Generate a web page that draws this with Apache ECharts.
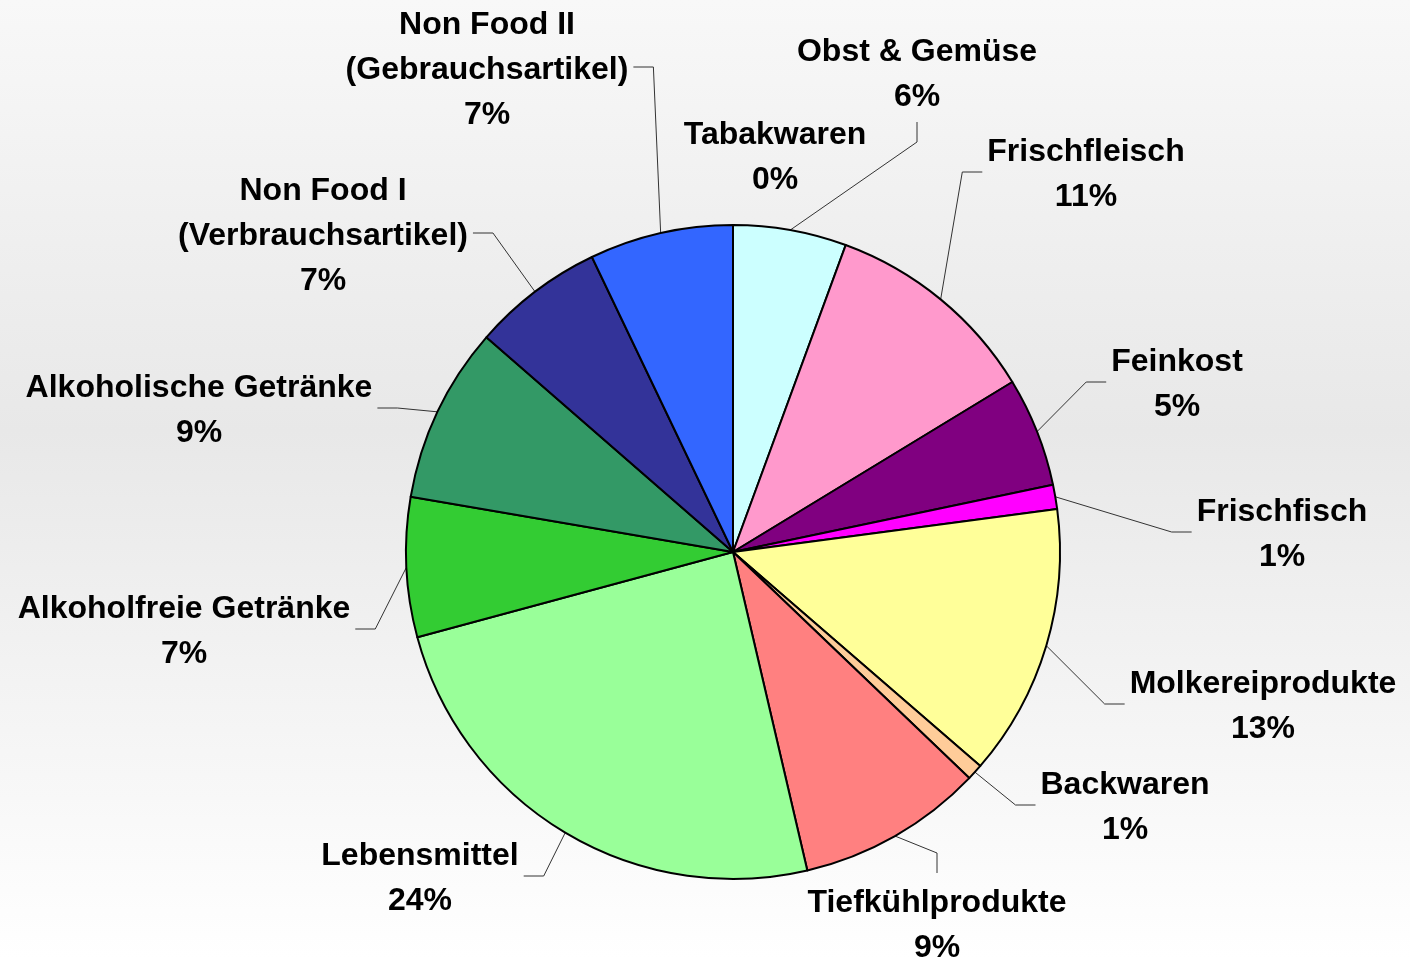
<!DOCTYPE html>
<html><head><meta charset="utf-8">
<script src="https://cdn.jsdelivr.net/npm/echarts@6/dist/echarts.min.js"></script>
<style>html,body{margin:0;padding:0;background:#fff;} #chart{width:1410px;height:958px;}</style>
</head><body><div id="chart"></div>
<script>
// ---- data ----
const categories = [
  'Tabakwaren', 'Obst & Gemüse', 'Frischfleisch', 'Feinkost', 'Frischfisch',
  'Molkereiprodukte', 'Backwaren', 'Tiefkühlprodukte', 'Lebensmittel',
  'Alkoholfreie Getränke', 'Alkoholische Getränke',
  'Non Food I\n(Verbrauchsartikel)', 'Non Food II\n(Gebrauchsartikel)'
];
const shares = [0, 5.6, 10.7, 5.4, 1.2, 13.45, 0.8, 9.2, 24.45, 6.9, 8.7, 6.5, 7.1];
const sliceColors = [
  '#C0C0C0', '#CCFFFF', '#FF99CC', '#800080', '#FF00FF',
  '#FFFF99', '#FFCC99', '#FF8080', '#99FF99',
  '#33CC33', '#339966', '#333399', '#3366FF'
];
// label placement: centre x, centre y, side of the label the leader line attaches to
const labelPlacement = [
  [775, 155, 'none'],
  [917, 72, 'bottom'],
  [1086, 172, 'left'],
  [1177, 382, 'left'],
  [1282, 532, 'left'],
  [1263, 704, 'left'],
  [1125, 805, 'left'],
  [937, 923, 'top'],
  [420, 876, 'right'],
  [184, 629, 'right'],
  [199, 408, 'right'],
  [323, 233, 'right'],
  [487, 67, 'right']
];

const chart = echarts.init(document.getElementById('chart'), null, {renderer: 'canvas'});
const seriesData = categories.map((n, i) => ({
  name: n,
  value: shares[i],
  itemStyle: {color: sliceColors[i]},
  labelLine: {show: labelPlacement[i][2] !== 'none'}
}));

chart.setOption({
  animation: false,
  backgroundColor: {
    type: 'linear', x: 0, y: 0, x2: 0, y2: 1,
    colorStops: [
      {offset: 0, color: '#f8f8f8'},
      {offset: 0.45, color: '#e8e8e8'},
      {offset: 1, color: '#ffffff'}
    ]
  },
  series: [{
    type: 'pie',
    center: [733, 552],
    radius: 327,
    startAngle: 90,
    clockwise: true,
    avoidLabelOverlap: false,
    silent: true,
    emphasis: {disabled: true},
    itemStyle: {borderColor: '#000', borderWidth: 2},
    label: {
      show: true,
      position: 'outside',
      formatter: p => p.name + '\n' + Math.round(p.percent) + '%',
      fontFamily: '"Liberation Sans", Arial, sans-serif',
      fontWeight: 'bold',
      fontSize: 32,
      lineHeight: 45,
      color: '#000',
      align: 'center'
    },
    labelLine: {show: true, length: 15, length2: 15, lineStyle: {color: '#333', width: 1}},
    labelLayout: function (p) {
      const pl = labelPlacement[p.dataIndex];
      const w = p.labelRect.width, h = p.labelRect.height;
      const x = pl[0], y = pl[1];
      const res = {x: x, y: y + 3, align: 'center', verticalAlign: 'middle', hideOverlap: false};
      const edge = p.labelLinePoints && p.labelLinePoints[0];
      if (edge && pl[2] !== 'none') {
        const gap = 5, seg = 20;
        let a, b;
        if (pl[2] === 'left') { a = [x - w / 2 - gap, y]; b = [a[0] - seg, y]; }
        else if (pl[2] === 'right') { a = [x + w / 2 + gap, y]; b = [a[0] + seg, y]; }
        else if (pl[2] === 'bottom') { a = [x, y + h / 2 + gap]; b = [x, a[1] + seg]; }
        else { a = [x, y - h / 2 - gap]; b = [x, a[1] - seg]; }
        res.labelLinePoints = [edge, b, a];
      }
      return res;
    },
    data: seriesData
  }]
});
</script>
</body></html>
